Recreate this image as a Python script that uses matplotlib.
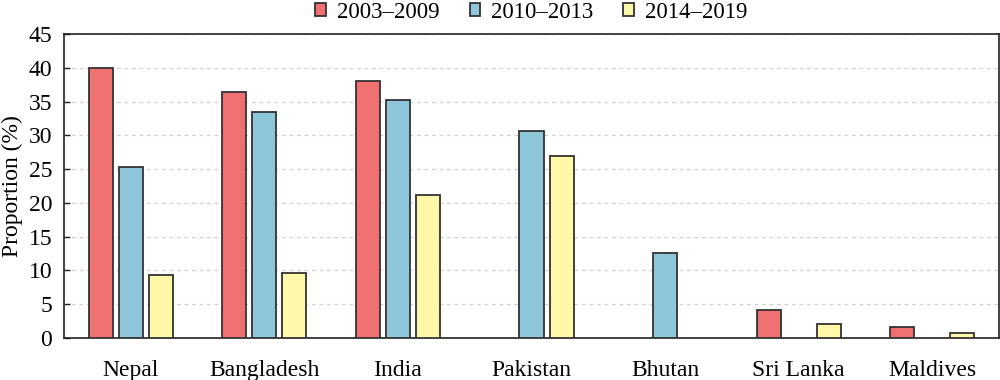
import numpy as np
import matplotlib
matplotlib.use('Agg')
import matplotlib.pyplot as plt

# data
countries = ['Nepal', 'Bangladesh', 'India', 'Pakistan', 'Bhutan', 'Sri Lanka', 'Maldives']
periods = ['2003\u20132009', '2010\u20132013', '2014\u20132019']
p2003_2009 = [40.0, 36.4, 38.0, 0, 0, 4.1, 1.6]
p2010_2013 = [25.3, 33.5, 35.3, 30.7, 12.6, 0, 0]
p2014_2019 = [9.4, 9.6, 21.2, 26.9, 0, 2.1, 0.75]
colors = ['#EE7070', '#8EC6DA', '#FFF8A8']

plt.rcParams['font.family'] = ['Liberation Serif', 'DejaVu Serif']

fig = plt.figure(figsize=(10, 3.8), dpi=100)
ax = fig.add_axes([0.064, 0.1105, 0.935, 0.80])

x = np.arange(len(countries))
width = 0.18
offsets = [-0.225, 0, 0.225]
series = [p2003_2009, p2010_2013, p2014_2019]
for off, vals, c, lab in zip(offsets, series, colors, periods):
    vals = np.array(vals, dtype=float)
    mask = vals > 0
    ax.bar(x[mask] + off, vals[mask], width, color=c, edgecolor='#333333',
           linewidth=1.3, label=lab, zorder=3)

ax.set_xlim(-0.5, len(countries) - 0.5)
ax.set_ylim(0, 45)
ax.set_yticks(np.arange(0, 46, 5))
ax.set_xticks(x)
ax.set_xticklabels(countries)
ax.tick_params(axis='both', labelsize=17)
ax.tick_params(axis='x', length=0, pad=16)
ax.tick_params(axis='y', direction='in', length=4, width=1, color='#222222', pad=8.5)
ax.set_ylabel('Proportion (%)', fontsize=17, labelpad=4)
ax.yaxis.grid(True, linestyle=(0, (3, 3)), color='#d8cccc', linewidth=0.9, zorder=0)
for s in ax.spines.values():
    s.set_color('#222222')
    s.set_linewidth(1.2)

ax.legend(loc='lower center', bbox_to_anchor=(0.5, 1.0), ncol=3, frameon=False,
          fontsize=16.5, handlelength=0.45, handleheight=0.45, handletextpad=0.5,
          columnspacing=1.3, borderaxespad=0.1)

fig.savefig('out.png', dpi=100)
